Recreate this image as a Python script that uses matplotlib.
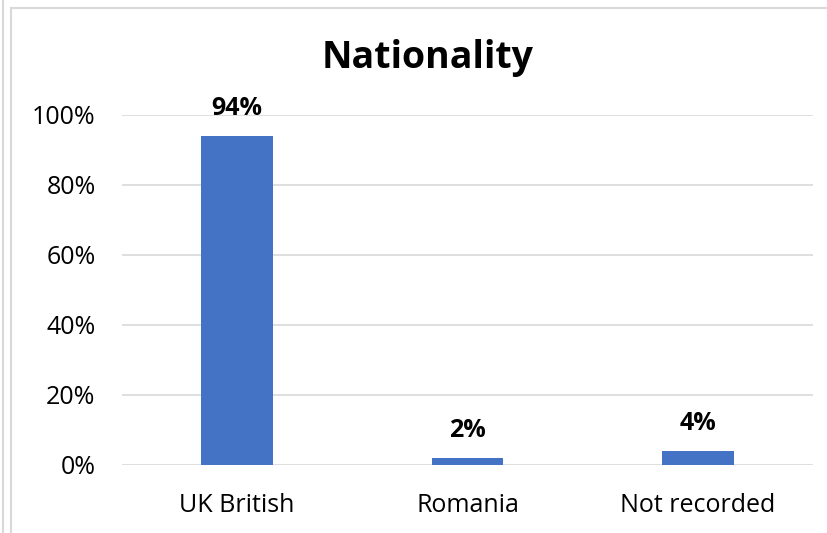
import matplotlib.pyplot as plt
from matplotlib.lines import Line2D
from matplotlib.ticker import PercentFormatter

categories = ['UK British', 'Romania', 'Not recorded']
values = [94, 2, 4]
y_ticks = [0, 20, 40, 60, 80, 100]

plt.rcParams['font.family'] = ['Open Sans', 'DejaVu Sans']

W, H = 827, 533
fig = plt.figure(figsize=(W / 100, H / 100), dpi=100)
ax = fig.add_axes([122 / W, 1 - 465 / H, (813 - 122) / W, (465 - 115) / H])

bar_color = '#4472c4'
grid_color = '#d9d9d9'

x = range(len(categories))
bars = ax.bar(x, values, width=0.31, color=bar_color, zorder=3)
for b, v in zip(bars, values):
    ax.text(b.get_x() + b.get_width() / 2, v + 4.3, f'{v}%', ha='center', va='bottom',
            fontsize=18, fontweight='bold', color='#000000')

ax.set_xlim(-0.5, len(categories) - 0.5)
ax.set_ylim(0, 100)
ax.set_yticks(y_ticks)
ax.yaxis.set_major_formatter(PercentFormatter(decimals=0))
ax.set_xticks(list(x))
ax.set_xticklabels(categories)
ax.tick_params(axis='both', length=0, labelsize=18, colors='#000000')
ax.tick_params(axis='y', pad=19)
ax.tick_params(axis='x', pad=20)
ax.grid(axis='y', color=grid_color, linewidth=1.2, zorder=0)
for s in ax.spines.values():
    s.set_visible(False)

fig.text(428 / W, 1 - 58 / H, 'Nationality', ha='center', va='center',
         fontsize=27, fontweight='bold')

# chart border
fig.add_artist(Line2D([3 / W, 3 / W], [0, 1], color=grid_color, lw=1.5))
fig.add_artist(Line2D([11 / W, 11 / W], [0, 1 - 8 / H], color=grid_color, lw=1.5))
fig.add_artist(Line2D([11 / W, 1], [1 - 8 / H, 1 - 8 / H], color=grid_color, lw=1.5))

fig.savefig('out.png', dpi=100)
